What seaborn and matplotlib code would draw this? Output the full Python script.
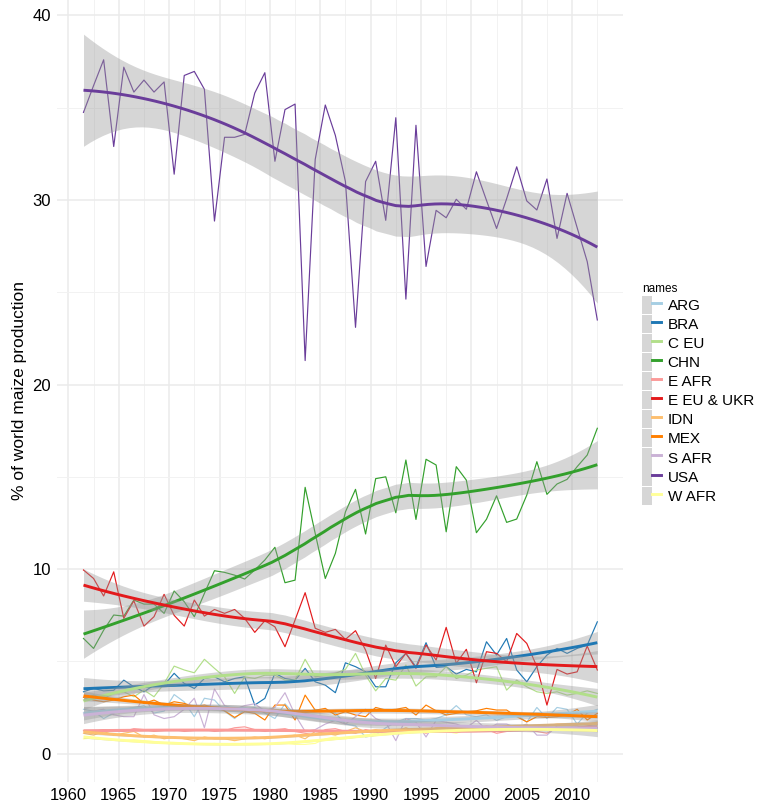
import numpy as np
import pandas as pd
import matplotlib
matplotlib.use("Agg")
import matplotlib.pyplot as plt
import seaborn as sns
from matplotlib.patches import Patch
from matplotlib.lines import Line2D
from matplotlib.legend_handler import HandlerTuple

# ---------------- data ----------------
years = list(range(1961, 2013))
names = ["ARG", "BRA", "C EU", "CHN", "E AFR", "E EU & UKR", "IDN", "MEX", "S AFR", "USA", "W AFR"]
colors = ["#a6cee3", "#1f78b4", "#b2df8a", "#33a02c", "#fb9a99", "#e31a1c",
          "#fdbf6f", "#ff7f00", "#cab2d6", "#6a3d9a", "#ffff99"]

usa = [34.75, 36.2, 37.6, 32.9, 37.2, 35.85, 36.5, 35.85, 36.4, 31.4, 36.75, 36.97, 36.0,
       28.86, 33.4, 33.4, 33.56, 35.8, 36.9, 32.1, 34.9, 35.2, 21.3, 32.2, 35.15, 33.5,
       31.0, 23.1, 31.0, 32.1, 28.9, 34.46, 24.63, 34.05, 26.4, 29.44, 29.04, 30.04, 29.5,
       31.53, 29.98, 28.46, 30.07, 31.8, 29.95, 29.46, 31.14, 27.92, 30.36, 28.5, 26.66, 23.5]
chn = [6.24, 5.70, 6.69, 7.51, 7.45, 8.32, 8.10, 8.10, 7.60, 8.81, 8.23, 7.42, 8.68, 9.91,
       9.82, 9.67, 9.46, 9.95, 10.49, 11.18, 9.26, 9.40, 14.43, 11.93, 9.49, 10.85, 13.1,
       14.32, 11.90, 14.9, 15.0, 13.05, 15.91, 12.69, 15.95, 15.64, 12.02, 15.55, 14.82,
       11.97, 12.7, 13.97, 12.53, 12.71, 14.01, 15.82, 14.05, 14.61, 14.86, 15.55, 16.18, 17.63]
eeu = [9.95, 9.49, 8.54, 9.85, 7.33, 8.28, 6.91, 7.42, 8.63, 7.49, 6.91, 8.32, 7.45, 7.81,
       7.60, 7.81, 7.33, 6.57, 7.20, 6.87, 5.79, 7.24, 8.72, 6.79, 6.57, 6.73, 6.19, 6.66,
       5.61, 4.07, 5.88, 4.71, 5.43, 4.62, 5.88, 5.07, 6.84, 4.89, 5.65, 3.84, 5.52, 5.43,
       4.98, 6.51, 5.97, 4.71, 2.63, 4.56, 4.31, 4.43, 5.83, 4.53]
bra = [3.35, 3.53, 3.40, 3.43, 3.98, 3.62, 3.35, 3.71, 3.71, 4.35, 3.80, 3.53, 4.07, 4.16,
       3.89, 4.07, 4.16, 2.63, 2.99, 4.35, 4.07, 3.98, 4.62, 3.89, 3.71, 3.30, 4.92, 4.71,
       4.43, 3.62, 3.62, 4.92, 5.43, 4.71, 6.01, 4.67, 4.71, 4.31, 4.56, 4.43, 6.06, 5.34,
       6.24, 4.53, 3.89, 4.71, 5.34, 5.70, 5.43, 5.70, 5.88, 7.14]
ceu = [2.90, 3.17, 2.99, 3.26, 3.35, 3.08, 3.44, 3.08, 3.80, 4.74, 4.53, 4.38, 5.11, 4.62,
       4.16, 3.26, 4.16, 4.07, 4.25, 4.25, 3.98, 3.98, 5.11, 4.16, 4.25, 4.35, 4.56, 5.43,
       4.25, 3.40, 4.07, 3.98, 4.80, 3.66, 4.16, 4.16, 4.71, 4.07, 4.25, 4.53, 4.62, 4.71,
       3.44, 3.98, 3.62, 3.35, 3.26, 3.35, 3.17, 3.26, 3.40, 3.26]
mex = [3.05, 2.90, 2.81, 2.90, 3.08, 3.17, 2.72, 2.90, 2.63, 2.81, 2.72, 2.54, 2.63, 2.50,
       2.32, 1.96, 2.27, 2.18, 1.82, 2.63, 2.63, 1.82, 3.17, 2.35, 2.45, 2.09, 2.27, 2.09,
       2.00, 2.50, 2.36, 2.40, 2.50, 2.09, 2.63, 2.32, 2.09, 2.18, 2.27, 2.32, 2.45, 2.36,
       2.36, 2.00, 1.72, 2.00, 1.96, 2.00, 2.09, 2.40, 1.82, 2.18]
arg = [2.4, 2.3, 1.9, 2.2, 2.4, 2.5, 2.6, 2.2, 2.3, 3.2, 2.8, 2.0, 3.0, 2.9, 2.3, 1.9,
       2.4, 2.5, 2.2, 1.9, 2.7, 2.1, 2.2, 2.4, 2.3, 2.2, 1.6, 1.5, 0.9, 1.0, 1.4, 1.7,
       1.9, 1.9, 1.8, 1.9, 2.1, 2.6, 2.1, 2.0, 2.1, 1.8, 2.0, 2.1, 1.7, 2.5, 1.9, 2.5,
       2.4, 1.6, 2.2, 2.4]
safr = [2.2, 2.3, 2.4, 2.1, 2.0, 2.0, 3.2, 2.1, 1.9, 2.0, 2.4, 3.0, 1.4, 3.5, 2.6, 2.4,
        2.6, 2.7, 2.3, 2.5, 3.3, 2.1, 1.2, 1.3, 1.6, 1.8, 1.6, 2.0, 2.4, 1.9, 1.7, 0.7,
        1.9, 1.7, 0.9, 1.8, 1.7, 1.6, 1.4, 1.8, 1.3, 1.6, 1.6, 1.4, 1.6, 1.0, 1.0, 1.5,
        1.5, 1.5, 1.3, 1.4]
eafr = [1.25, 1.2, 1.3, 1.25, 1.2, 1.35, 1.3, 1.2, 1.25, 1.3, 1.2, 1.25, 1.3, 1.2, 1.25,
        1.4, 1.45, 1.3, 1.2, 1.3, 1.35, 1.2, 1.1, 1.0, 1.3, 1.35, 1.2, 1.1, 1.3, 1.2, 1.15,
        1.2, 1.3, 1.25, 1.1, 1.3, 1.2, 1.3, 1.2, 1.2, 1.3, 1.1, 1.2, 1.3, 1.25, 1.2, 1.1,
        1.4, 1.3, 1.4, 1.5, 1.6]
idn = [1.1, 1.0, 1.2, 1.0, 1.1, 1.2, 0.9, 1.0, 0.8, 0.9, 0.8, 0.7, 0.9, 0.8, 0.8, 0.7,
       0.8, 0.9, 0.8, 0.9, 0.9, 1.0, 0.8, 1.2, 1.1, 1.0, 1.2, 1.4, 1.2, 1.3, 1.2, 1.2,
       1.4, 1.2, 1.2, 1.4, 1.4, 1.3, 1.5, 1.4, 1.5, 1.4, 1.4, 1.5, 1.4, 1.4, 1.5, 1.6,
       1.6, 1.6, 1.6, 1.7]
wafr = [0.8, 0.85, 0.8, 0.75, 0.7, 0.75, 0.7, 0.65, 0.6, 0.6, 0.55, 0.55, 0.5, 0.55,
        0.5, 0.5, 0.55, 0.5, 0.5, 0.55, 0.55, 0.5, 0.5, 0.55, 0.8, 0.9, 0.8, 0.9, 1.0,
        1.1, 1.2, 1.1, 1.2, 1.2, 1.3, 1.2, 1.2, 1.1, 1.3, 1.3, 1.2, 1.3, 1.2, 1.3, 1.3,
        1.3, 1.3, 1.3, 1.4, 1.3, 1.3, 1.2]

series = {"ARG": arg, "BRA": bra, "C EU": ceu, "CHN": chn, "E AFR": eafr,
          "E EU & UKR": eeu, "IDN": idn, "MEX": mex, "S AFR": safr, "USA": usa, "W AFR": wafr}
pal = dict(zip(names, colors))

# dates sit mid-year on the time axis
df = pd.concat([pd.DataFrame({"x": np.array(years) + 0.5, "value": series[n], "names": n})
                for n in names], ignore_index=True)


# ---------------- loess (degree 2, span 0.75) with 95% CI ----------------
def t_quantile(dfree, z=1.959963985):
    g1 = (z**3 + z) / 4
    g2 = (5 * z**5 + 16 * z**3 + 3 * z) / 96
    g3 = (3 * z**7 + 19 * z**5 + 17 * z**3 - 15 * z) / 384
    return z + g1 / dfree + g2 / dfree**2 + g3 / dfree**3


def loess(x, y, xg, span=0.75):
    x = np.asarray(x, float)
    y = np.asarray(y, float)
    n = len(x)
    q = int(np.floor(n * span))

    def row(x0):
        d = np.abs(x - x0)
        h = np.sort(d)[q - 1] * 1.0000001
        w = np.clip(1 - (d / h) ** 3, 0, None) ** 3
        X = np.vstack([np.ones(n), x - x0, (x - x0) ** 2]).T
        W = (w[:, None] * X).T
        return np.linalg.solve(X.T @ (w[:, None] * X), W)[0]

    L = np.array([row(v) for v in x])
    res = y - L @ y
    M = np.eye(n) - L
    MM = M.T @ M
    d1 = np.trace(MM)
    d2 = np.trace(MM @ MM)
    sigma = np.sqrt(res @ res / d1)
    tq = t_quantile(d1 ** 2 / d2)
    Lg = np.array([row(v) for v in xg])
    fit = Lg @ y
    se = sigma * np.sqrt((Lg ** 2).sum(1))
    return fit, fit - tq * se, fit + tq * se


# ---------------- plot ----------------
plt.rcParams["font.family"] = ["Liberation Sans", "DejaVu Sans"]
W, H = 757, 809
fig = plt.figure(figsize=(W / 100, H / 100), dpi=100)
ax = fig.add_axes([57.3 / W, 27 / H, (623 - 57.3) / W, 782 / H])
ax.set_facecolor("white")

sns.lineplot(data=df, x="x", y="value", hue="names", hue_order=names, palette=pal,
             estimator=None, linewidth=0.85, legend=False, ax=ax, zorder=2)

for i, n in enumerate(names):
    sub = df[df["names"] == n]
    xg = np.linspace(sub["x"].min(), sub["x"].max(), 80)
    fit, lo, hi = loess(sub["x"].values, sub["value"].values, xg)
    ax.fill_between(xg, lo, hi, color="#999999", alpha=0.4, linewidth=0, zorder=3 + 2 * i)
    ax.plot(xg, fit, color=pal[n], linewidth=2.1, zorder=4 + 2 * i, solid_capstyle="butt")

ax.set_xlim(1958.9, 2015.05)
ax.set_ylim(-1.54, 40.84)
ax.set_xticks(list(range(1960, 2011, 5)))
ax.set_xticks([v + 2.5 for v in range(1960, 2011, 5)], minor=True)
ax.set_yticks([0, 10, 20, 30, 40])
ax.set_yticks([5, 15, 25, 35], minor=True)
ax.grid(which="major", color="#ebebeb", linewidth=1.1)
ax.grid(which="minor", color="#f2f2f2", linewidth=0.7)
ax.set_axisbelow(True)
for s in ax.spines.values():
    s.set_visible(False)
ax.tick_params(which="both", length=0, labelsize=12, pad=4.5, labelcolor="black")
ax.set_xlabel("")
ax.set_ylabel("% of world maize production", fontsize=12.5, labelpad=4, color="black")

handles = [(Patch(facecolor="#d6d6d6", edgecolor="none"),
            Line2D([], [], color=pal[n], linewidth=2.1)) for n in names]
leg = fig.legend(handles, names, handler_map={tuple: HandlerTuple(ndivide=None, pad=0)},
                 loc="upper left", bbox_to_anchor=(642 / W, 1 - 283 / H),
                 frameon=False, fontsize=11, title="names", title_fontsize=8.5,
                 handlelength=1.27, handleheight=1.45, labelspacing=0.06,
                 handletextpad=0.4, borderpad=0, borderaxespad=0)
leg._legend_box.align = "left"

fig.savefig("out.png", dpi=100)
